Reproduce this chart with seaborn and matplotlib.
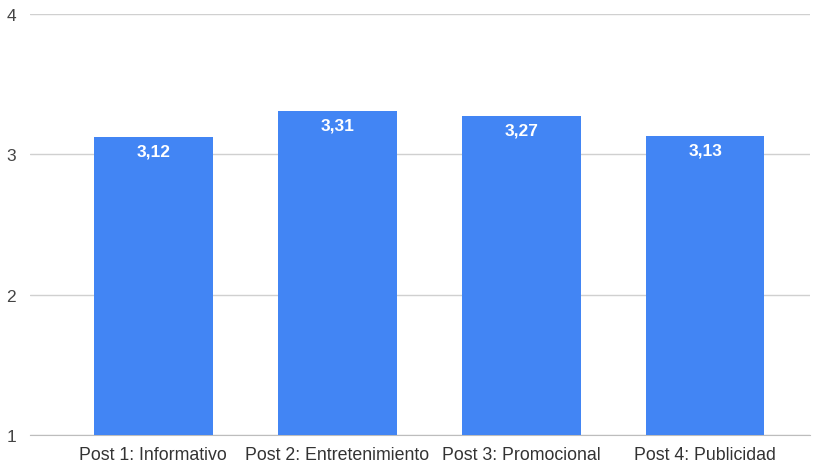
import matplotlib
matplotlib.use("Agg")
import matplotlib.pyplot as plt
import seaborn as sns
import pandas as pd

categories = ["Post 1: Informativo", "Post 2: Entretenimiento", "Post 3: Promocional", "Post 4: Publicidad"]
values = [3.12, 3.31, 3.27, 3.13]
y_ticks = [1, 2, 3, 4]

sns.set_style("white")
plt.rcParams['font.family'] = ['Liberation Sans', 'DejaVu Sans']

df = pd.DataFrame({"cat": categories, "val": values})

fig = plt.figure(figsize=(8.21, 4.64), dpi=100)
ax = fig.add_axes([30/821, 1-436/464, (810-30)/821, (436-15)/464])

sns.barplot(data=df, x="cat", y="val", color="#4285F4", saturation=1, width=0.645, ax=ax, zorder=3)
for p in ax.patches:
    p.set_edgecolor("none")

ax.set_ylim(1, 4)
ax.set_xlim(-0.67, 3.57)
ax.set_yticks(y_ticks)
ax.set_yticklabels([str(t) for t in y_ticks], fontsize=12.5, color="#444444")
ax.yaxis.grid(True, color="#d0d0d0", linewidth=1, zorder=0)
ax.set_axisbelow(True)
ax.tick_params(axis="y", length=0, pad=10)
ax.tick_params(axis="x", length=0, pad=8, labelsize=12.8, labelcolor="#333333")
ax.set_xlabel("")
ax.set_ylabel("")
for s in ["top", "right", "left"]:
    ax.spines[s].set_visible(False)
ax.spines["bottom"].set_color("#bdbdbd")

for i, v in enumerate(values):
    ax.text(i, v - 0.045, f"{v:.2f}".replace(".", ","), ha="center", va="top",
            color="white", fontsize=12.5, fontweight="bold", zorder=5)

fig.savefig("out.png", dpi=100)
